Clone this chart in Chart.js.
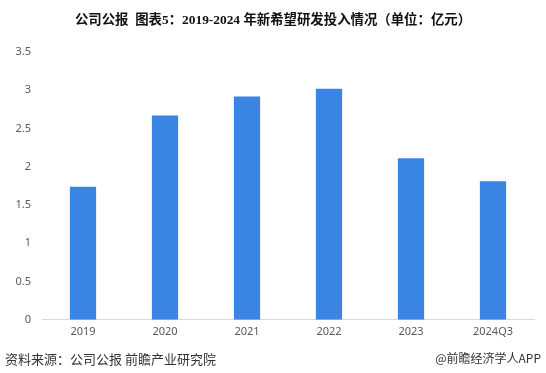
<!DOCTYPE html>
<html lang="zh">
<head>
<meta charset="UTF-8" />
<title>新希望研发投入情况</title>
<script src="https://cdn.jsdelivr.net/npm/chart.js"></script>
<style>
  html, body { margin: 0; padding: 0; background: #fff; }
  .wrap { position: relative; width: 546px; height: 373px; overflow: hidden; }
  .title { position: absolute; top: 8px; left: 0; width: 546px; text-align: center;
    font: bold 13.4px "Liberation Serif", "Noto Sans CJK SC", serif; color: #111; }
  .source { position: absolute; left: 5px; top: 349px; font: 13px "Noto Sans CJK SC", sans-serif; color: #333; }
  .brand { position: absolute; right: 5px; top: 349px; font: 12px "Noto Sans CJK SC", sans-serif; color: #333; }
  canvas { position: absolute; left: 0; top: 0; }
</style>
</head>
<body>
<div class="wrap">
  <canvas id="chart" width="546" height="373"></canvas>
  <div class="title">公司公报&nbsp; 图表5：2019-2024 年新希望研发投入情况（单位：亿元）</div>
  <div class="source">资料来源：公司公报 前瞻产业研究院</div>
  <div class="brand">@前瞻经济学人APP</div>
</div>

<script>
  // data
  const years = ['2019', '2020', '2021', '2022', '2023', '2024Q3'];
  const rdSpend = [1.74, 2.67, 2.92, 3.02, 2.11, 1.81];
  const yMax = 3.5;
  const yStep = 0.5;

  const tickFont = { family: "'Noto Sans', 'DejaVu Sans', sans-serif", size: 11 };

  new Chart(document.getElementById('chart').getContext('2d'), {
    type: 'bar',
    data: {
      labels: years,
      datasets: [{
        label: '研发投入',
        data: rdSpend,
        backgroundColor: '#3a84e4',
        barPercentage: 0.8,
        categoryPercentage: 0.4
      }]
    },
    options: {
      responsive: false,
      animation: false,
      layout: { padding: { top: 52, right: 12, bottom: 30, left: 0 } },
      plugins: { legend: { display: false }, title: { display: false }, tooltip: { enabled: false } },
      scales: {
        x: {
          grid: { display: false, drawTicks: false },
          border: { display: true, color: '#d9d9d9', width: 1 },
          ticks: { color: '#595959', font: tickFont, padding: 5 }
        },
        y: {
          min: 0,
          max: yMax,
          afterFit: s => { s.width = 42; },
          grid: { display: false, drawTicks: false },
          border: { display: false },
          ticks: { stepSize: yStep, color: '#595959', font: tickFont, padding: 11, callback: v => String(v) }
        }
      }
    }
  });
</script>
</body>
</html>
